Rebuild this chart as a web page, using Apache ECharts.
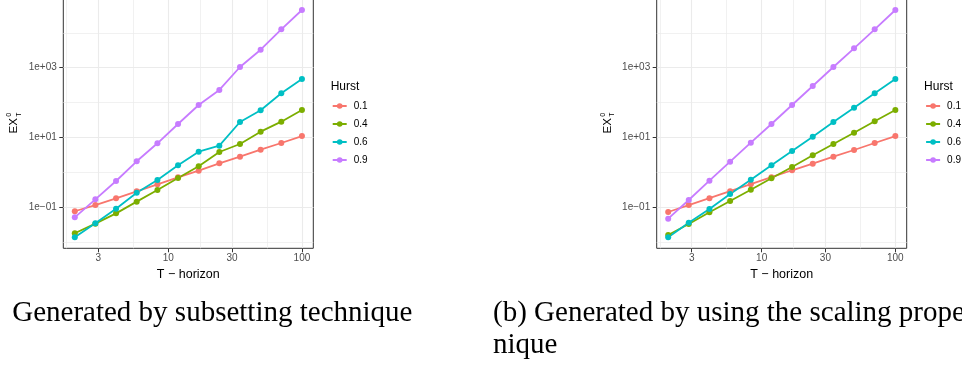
<!DOCTYPE html>
<html><head><meta charset="utf-8">
<script src="https://cdn.jsdelivr.net/npm/echarts@6/dist/echarts.min.js"></script>
<style>html,body{margin:0;padding:0;background:#fff}#c{width:962px;height:368px}</style>
</head><body><div id="c"></div>
<script>
// ---- data ----
const T = [2, 2.85, 4.07, 5.81, 8.30, 11.84, 16.89, 24.11, 34.41, 49.10, 70.07, 100];
const hurst = ['0.1', '0.4', '0.6', '0.9'];
// (a) subsetting technique
const sub_h01 = [0.077, 0.116, 0.181, 0.287, 0.456, 0.724, 1.12, 1.82, 2.82, 4.47, 6.95, 11.0];
const sub_h04 = [0.018, 0.034, 0.067, 0.145, 0.313, 0.692, 1.50, 3.84, 6.51, 14.7, 28.4, 61.4];
const sub_h06 = [0.0138, 0.0348, 0.0912, 0.262, 0.605, 1.60, 3.92, 5.82, 27.8, 60.2, 185, 474];
const sub_h09 = [0.0516, 0.169, 0.567, 2.08, 6.82, 24.4, 85.4, 230, 1047, 3281, 12590, 44980];
// (b) scaling property technique
const scl_h01 = [0.0733, 0.116, 0.182, 0.290, 0.460, 0.730, 1.15, 1.78, 2.82, 4.38, 6.95, 11.0];
const scl_h04 = [0.0161, 0.0332, 0.0719, 0.152, 0.319, 0.678, 1.43, 3.09, 6.51, 13.7, 29.1, 61.4];
const scl_h06 = [0.0138, 0.0362, 0.0894, 0.240, 0.618, 1.60, 4.10, 10.5, 27.8, 71.4, 185, 474];
const scl_h09 = [0.0471, 0.162, 0.578, 2.03, 7.10, 24.4, 85.4, 299, 1047, 3597, 12590, 44980];
// axis breaks
const xTicks = [3, 10, 30, 100];
const xGridVals = [1.73, 3, 5.48, 10, 17.3, 30, 54.8, 100];
const yTicks = [0.1, 10, 1000];
const yGridVals = [0.01, 0.1, 1, 10, 100, 1000, 10000, 100000];
const xLimits = [1.641, 121.6];
const yLimits = [0.00668, 100000];
const captionA = 'Generated by subsetting technique';
const captionB1 = '(b) Generated by using the scaling property tech-';
const captionB2 = 'nique';

// ---- chart ----
const SANS = '"Liberation Sans", Arial, sans-serif';
const SERIF = '"Liberation Serif", "Times New Roman", serif';
const colors = ['#F8766D', '#7CAE00', '#00BFC4', '#C77CFF'];
const panels = [
  { off: 0, data: [sub_h01, sub_h04, sub_h06, sub_h09] },
  { off: 593.4, data: [scl_h01, scl_h04, scl_h06, scl_h09] }
];
const GL = 63.3, GT = -2.1, GW = 250, GH = 250.4;

function expLabel(v) {
  const e = Math.round(Math.log10(v));
  const a = Math.abs(e);
  return '1e' + (e < 0 ? '\u2212' : '+') + (a < 10 ? '0' : '') + a;
}

const grid = [], xAxis = [], yAxis = [], series = [], legend = [], graphic = [];
panels.forEach((p, i) => {
  grid.push({ left: GL + p.off, top: GT, width: GW, height: GH, show: true,
    backgroundColor: '#ffffff', borderColor: '#333333', borderWidth: 1,
    containLabel: false, outerBoundsMode: 'none' });
  // thin grid lines (major + minor)
  xAxis.push({ gridIndex: i, type: 'log', logBase: 10, min: xLimits[0], max: xLimits[1], position: 'bottom',
    axisLine: { show: false }, axisTick: { show: false, customValues: xGridVals }, axisLabel: { show: false },
    splitLine: { show: true, lineStyle: { color: '#EBEBEB', width: 0.7 } } });
  // major breaks: ticks, labels, thicker lines
  xAxis.push({ gridIndex: i, type: 'log', logBase: 10, min: xLimits[0], max: xLimits[1], position: 'bottom',
    axisLine: { show: false },
    axisTick: { show: true, customValues: xTicks, length: 4, lineStyle: { color: '#333333', width: 1 } },
    axisLabel: { show: true, customValues: xTicks, margin: 5, color: '#4D4D4D', fontSize: 10, fontFamily: SANS,
      formatter: v => String(Math.round(v)) },
    splitLine: { show: true, lineStyle: { color: '#EBEBEB', width: 1.1 } },
    name: 'T \u2212 horizon', nameLocation: 'middle', nameGap: 17,
    nameTextStyle: { color: '#000', fontSize: 12.5, fontFamily: SANS } });
  yAxis.push({ gridIndex: i, type: 'log', logBase: 10, min: yLimits[0], max: yLimits[1], position: 'left',
    axisLine: { show: false }, axisTick: { show: false, customValues: yGridVals }, axisLabel: { show: false },
    splitLine: { show: true, lineStyle: { color: '#EBEBEB', width: 0.7 } } });
  yAxis.push({ gridIndex: i, type: 'log', logBase: 10, min: yLimits[0], max: yLimits[1], position: 'left',
    axisLine: { show: false },
    axisTick: { show: true, customValues: yTicks, length: 4, lineStyle: { color: '#333333', width: 1 } },
    axisLabel: { show: true, customValues: yTicks, margin: 6.5, color: '#4D4D4D', fontSize: 10, fontFamily: SANS,
      formatter: expLabel },
    splitLine: { show: true, lineStyle: { color: '#EBEBEB', width: 1.1 } } });
  p.data.forEach((vals, k) => {
    series.push({ type: 'line', name: hurst[k], xAxisIndex: 2 * i, yAxisIndex: 2 * i,
      data: T.map((t, j) => [t, vals[j]]),
      symbol: 'circle', symbolSize: 6, showSymbol: true, showAllSymbol: true,
      lineStyle: { color: colors[k], width: 1.8 }, itemStyle: { color: colors[k] },
      emphasis: { disabled: true }, silent: true, clip: true });
  });
  legend.push({ orient: 'vertical', left: 331.7 + p.off, top: 100, padding: 0, itemWidth: 14, itemHeight: 7, itemGap: 6,
    data: hurst, selectedMode: false,
    textStyle: { fontSize: 10, color: '#000', fontFamily: SANS, lineHeight: 12, padding: [0, 0, 0, 2] } });
  graphic.push({ type: 'text', left: 330.7 + p.off, top: 80.5, style: { text: 'Hurst', fontSize: 12, fontFamily: SANS, fill: '#000' } });
  // y axis title EX^0_T (rotated)
  graphic.push({ type: 'group', x: 18.3 + p.off, y: 133.4, rotation: Math.PI / 2, children: [
    { type: 'text', x: 0, y: -4.0, style: { text: 'EX', fontSize: 11.5, fontFamily: SANS, fill: '#000', verticalAlign: 'middle', align: 'left' } },
    { type: 'text', x: 16.6, y: -9.0, style: { text: '0', fontSize: 7, fontFamily: SANS, fill: '#000', verticalAlign: 'middle', align: 'left' } },
    { type: 'text', x: 16.6, y: 0.6, style: { text: 'T', fontSize: 7, fontFamily: SANS, fill: '#000', verticalAlign: 'middle', align: 'left' } }
  ] });
});
graphic.push({ type: 'text', x: 12.2, y: 313.2, style: { text: captionA, fontSize: 29, fontFamily: SERIF, fill: '#000', verticalAlign: 'middle' } });
graphic.push({ type: 'text', x: 493, y: 313.2, style: { text: captionB1, fontSize: 29, fontFamily: SERIF, fill: '#000', verticalAlign: 'middle' } });
graphic.push({ type: 'text', x: 493, y: 345.2, style: { text: captionB2, fontSize: 29, fontFamily: SERIF, fill: '#000', verticalAlign: 'middle' } });

const chart = echarts.init(document.getElementById('c'));
chart.setOption({ animation: false, backgroundColor: '#ffffff', grid, xAxis, yAxis, series, legend, graphic });
</script>
</body></html>
